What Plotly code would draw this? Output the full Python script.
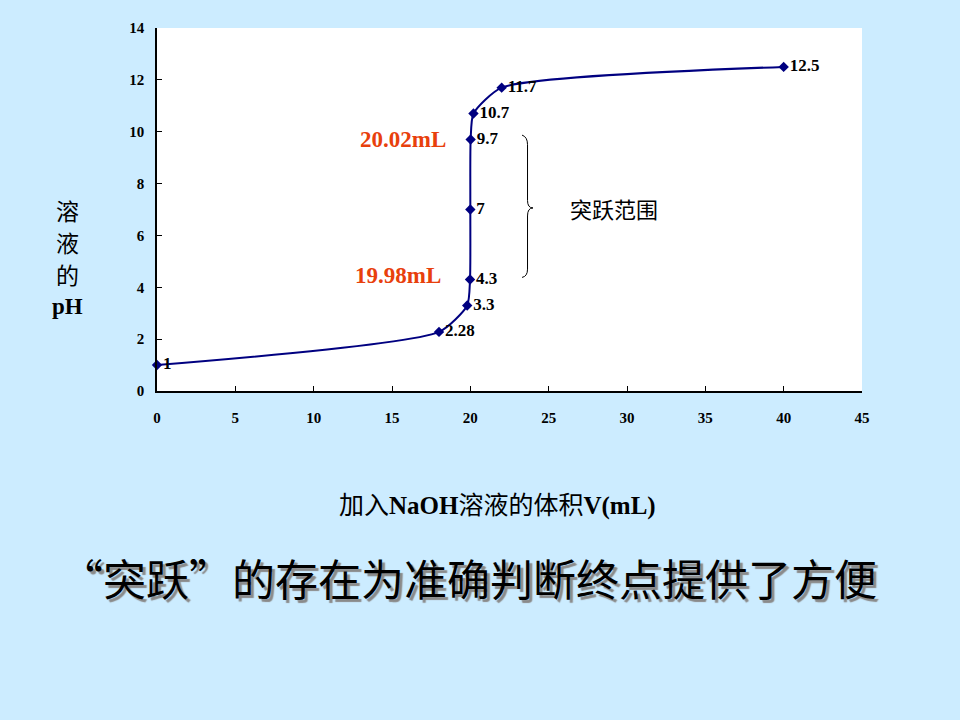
import plotly.graph_objects as go

# Data
volume_ml = [0, 18, 19.8, 19.98, 20, 20.02, 20.2, 22, 40]
ph_values = [1, 2.28, 3.3, 4.3, 7, 9.7, 10.7, 11.7, 12.5]
ph_labels = ["1", "2.28", "3.3", "4.3", "7", "9.7", "10.7", "11.7", "12.5"]
x_ticks = [0, 5, 10, 15, 20, 25, 30, 35, 40, 45]
y_ticks = [0, 2, 4, 6, 8, 10, 12, 14]
y_title_lines = ["溶", "液", "的", "<b><span style='font-family:Liberation Serif'>pH</span></b>"]

NAVY = "#000080"
BG = "#CCECFF"
SERIF = "Liberation Serif, Times New Roman, serif"
CJK = "Noto Sans CJK SC, sans-serif"
RED = "#E8400C"

W, H = 960, 720
L, R, T, B = 157, 98, 28, 329
pw, ph = W - L - R, H - T - B


def px(xp):
    return (xp - L) / pw


def py(yp):
    return (H - B - yp) / ph


fig = go.Figure()
fig.add_trace(go.Scatter(
    x=volume_ml, y=ph_values,
    mode="lines+markers+text",
    line=dict(color=NAVY, width=2, shape="spline", smoothing=0.6),
    marker=dict(symbol="diamond", size=8, color=NAVY),
    text=[f"<b>{t}</b>" for t in ph_labels],
    textposition="middle right",
    textfont=dict(family=SERIF, size=17, color="black"),
    cliponaxis=False,
    hoverinfo="x+y",
    showlegend=False,
))

# Brace for the jump range
fig.add_shape(
    type="path",
    path="M 23.3,9.87 Q 23.65,9.8 23.65,9.5 L 23.65,7.35 Q 23.65,7.06 24.0,7.06 "
         "Q 23.65,7.06 23.65,6.75 L 23.65,4.7 Q 23.65,4.42 23.3,4.38",
    line=dict(color="black", width=1),
    xref="x", yref="y",
)

fig.add_annotation(x=px(403), y=py(139), xref="paper", yref="paper",
                   text="<b>20.02mL</b>", showarrow=False,
                   xanchor="center", yanchor="middle",
                   font=dict(family=SERIF, size=23, color=RED))
fig.add_annotation(x=px(398), y=py(275), xref="paper", yref="paper",
                   text="<b>19.98mL</b>", showarrow=False,
                   xanchor="center", yanchor="middle",
                   font=dict(family=SERIF, size=23, color=RED))
fig.add_annotation(x=px(614), y=py(208), xref="paper", yref="paper",
                   text="突跃范围", showarrow=False,
                   xanchor="center", yanchor="middle",
                   font=dict(family=CJK, size=22, color="black"))
for i, line in enumerate(y_title_lines):
    fig.add_annotation(x=px(67), y=py(210 + 32 * i), xref="paper", yref="paper",
                       text=line, showarrow=False,
                       xanchor="center", yanchor="middle",
                       font=dict(family=CJK, size=23, color="black"))
fig.add_annotation(x=px(497), y=py(503), xref="paper", yref="paper",
                   text="加入<b><span style='font-family:Liberation Serif'>NaOH</span></b>溶液的体积"
                        "<b><span style='font-family:Liberation Serif'>V(mL)</span></b>",
                   showarrow=False, xanchor="center", yanchor="middle",
                   font=dict(family=CJK, size=25, color="black"))
headline = "“突跃”的存在为准确判断终点提供了方便"
fig.add_annotation(x=px(468), y=py(577), xref="paper", yref="paper",
                   text=headline, showarrow=False,
                   xanchor="center", yanchor="middle",
                   font=dict(family=CJK, size=43, color="black",
                             shadow="3px 3px 1px #8A8A8A"))

fig.update_layout(
    width=W, height=H,
    margin=dict(l=L, r=R, t=T, b=B),
    paper_bgcolor=BG,
    plot_bgcolor="white",
    xaxis=dict(range=[0, 45], tickvals=x_ticks,
               ticktext=[f"<b>{v}</b>" for v in x_ticks],
               showgrid=False, zeroline=False,
               showline=True, linecolor="black", linewidth=1.5,
               ticks="inside", ticklen=5, tickcolor="black",
               ticklabelstandoff=12,
               tickfont=dict(family=SERIF, size=15, color="black")),
    yaxis=dict(range=[0, 14], tickvals=y_ticks,
               ticktext=[f"<b>{v}</b>" for v in y_ticks],
               showgrid=False, zeroline=False,
               showline=True, linecolor="black", linewidth=1.5,
               ticks="inside", ticklen=5, tickcolor="black",
               ticklabelstandoff=8,
               tickfont=dict(family=SERIF, size=15, color="black")),
)

fig.write_html("out.html", config={"displayModeBar": False},
               post_script="document.body.style.margin='0';document.body.style.overflow='hidden';")
